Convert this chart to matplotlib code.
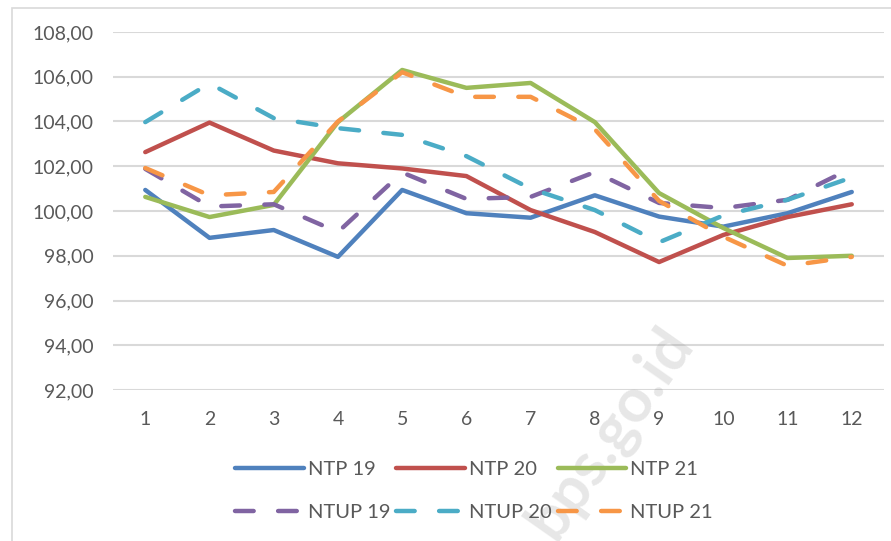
import numpy as np
import matplotlib.pyplot as plt
from matplotlib.patches import Rectangle

# =============================================================================
# Daten
# =============================================================================
bulan = np.arange(1, 13)

ntp19 = [100.94, 98.80, 99.15, 97.95, 100.94, 99.90, 99.70, 100.70, 99.75, 99.30, 99.90, 100.85]
ntp20 = [102.63, 103.95, 102.70, 102.13, 101.90, 101.56, 100.04, 99.06, 97.72, 98.93, 99.73, 100.30]
ntp21 = [100.63, 99.73, 100.27, 103.97, 106.30, 105.50, 105.72, 103.97, 100.80, 99.24, 97.90, 98.00]
ntup19 = [101.88, 100.20, 100.30, 99.06, 101.72, 100.54, 100.63, 101.74, 100.36, 100.13, 100.50, 101.92]
ntup20 = [103.97, 105.70, 104.15, 103.70, 103.40, 102.45, 101.00, 100.04, 98.60, 99.80, 100.50, 101.50]
ntup21 = [101.92, 100.70, 100.85, 104.00, 106.20, 105.10, 105.10, 103.65, 100.45, 98.85, 97.55, 97.95]

y_ticks = np.arange(92, 109, 2)

# =============================================================================
# Plot
# =============================================================================
plt.rcParams['font.family'] = ['Lato', 'DejaVu Sans']

fig = plt.figure(figsize=(8.91, 5.41), dpi=100)
ax = fig.add_axes([0.127, 0.279, 0.865, 0.662])

# Rahmen um das Diagramm
fig.patches.append(Rectangle((12 / 891, -0.1), 1.2, 1 - 8 / 541 + 0.1,
                             transform=fig.transFigure, fill=False,
                             edgecolor='#d9d9d9', linewidth=1.2))

lw = 3.2
l1, = ax.plot(bulan, ntp19, color='#4F81BD', lw=lw, label='NTP 19', solid_capstyle='round')
l2, = ax.plot(bulan, ntp20, color='#C0504D', lw=lw, label='NTP 20', solid_capstyle='round')
l3, = ax.plot(bulan, ntp21, color='#9BBB59', lw=lw, label='NTP 21', solid_capstyle='round')
d1, = ax.plot(bulan, ntup19, color='#8064A2', lw=lw, label='NTUP 19', dashes=(4.2, 5.5), dash_capstyle='round')
d2, = ax.plot(bulan, ntup20, color='#4BACC6', lw=lw, label='NTUP 20', dashes=(4.2, 5.5), dash_capstyle='round')
d3, = ax.plot(bulan, ntup21, color='#F79646', lw=lw, label='NTUP 21', dashes=(4.2, 5.5), dash_capstyle='round')

ax.set_xlim(0.5, 12.5)
ax.set_ylim(92, 108)
ax.set_xticks(bulan)
ax.set_yticks(y_ticks)
ax.set_yticklabels([f'{v:.2f}'.replace('.', ',') for v in y_ticks])
ax.grid(axis='y', color='#d9d9d9', linewidth=1.5)
ax.set_axisbelow(True)
for s in ax.spines.values():
    s.set_visible(False)
ax.tick_params(length=0, labelsize=14, colors='#595959', pad=14)
ax.tick_params(axis='x', pad=15)

fig.legend([l1, d1, l2, d2, l3, d3],
           ['NTP 19', 'NTUP 19', 'NTP 20', 'NTUP 20', 'NTP 21', 'NTUP 21'],
           ncol=3, loc='center', bbox_to_anchor=(0.532, 0.093), frameon=False,
           fontsize=14.5, labelcolor='#595959', handlelength=3.4, handletextpad=0.2,
           columnspacing=0.3, labelspacing=1.3)

# Wasserzeichen
fig.text(0.685, 0.2, 'bps.go.id', rotation=55, fontsize=44, fontweight='bold',
         color='#888888', alpha=0.2, ha='center', va='center')

fig.savefig('out.png', dpi=100)
